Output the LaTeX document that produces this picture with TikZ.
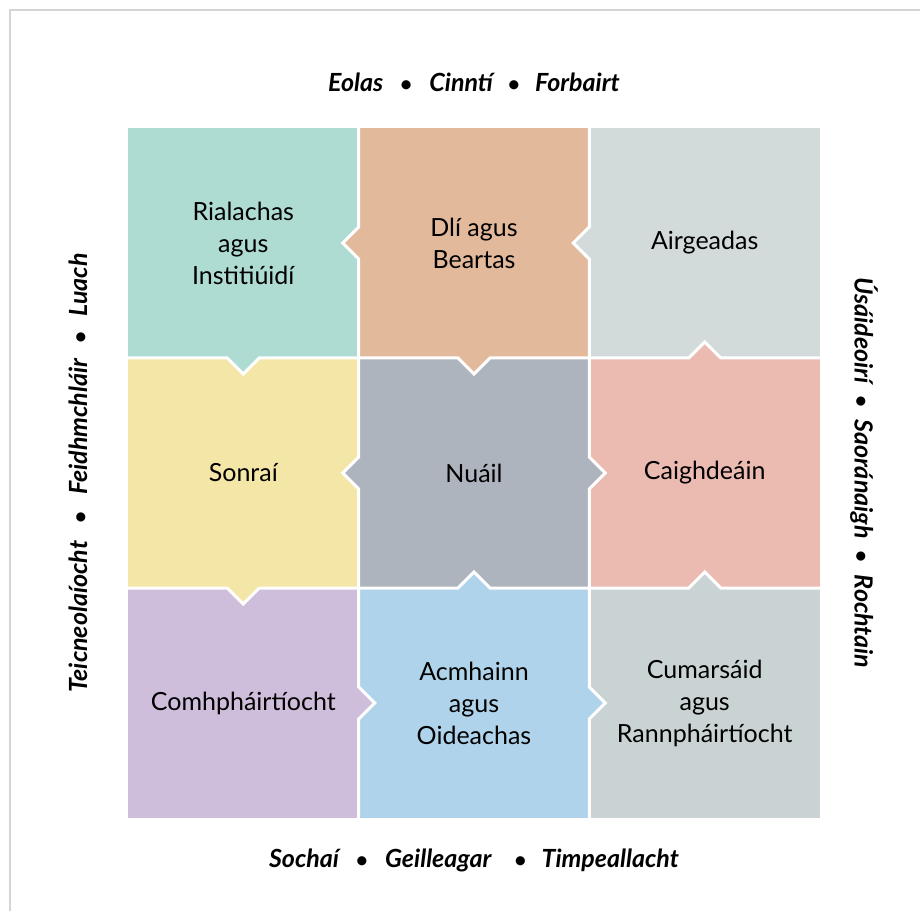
\documentclass[tikz,border=0pt]{standalone}
\usepackage{fontspec}
\setmainfont{Lato}
\usepackage{tikz}
\usetikzlibrary{positioning}
\usetikzlibrary{calc}

\definecolor{rialfill}{HTML}{AEDCD3}
\definecolor{dlifill}{HTML}{E3B99C}
\definecolor{airgfill}{HTML}{D3DBDA}
\definecolor{sonrfill}{HTML}{F4E6A7}
\definecolor{nuailfill}{HTML}{ADB4BD}
\definecolor{caigfill}{HTML}{EBBBB1}
\definecolor{comhfill}{HTML}{CFBEDB}
\definecolor{acmhfill}{HTML}{AFD3EA}
\definecolor{cumafill}{HTML}{CAD3D3}
\definecolor{framecol}{HTML}{D4D4D4}

\newcommand{\celltext}{\fontsize{25}{32}\selectfont}
\newcommand{\sidetext}{\fontsize{25}{30}\selectfont\bfseries\itshape}
\newcommand{\dotsep}[1]{\hspace{#1}{\fontsize{21}{21}\selectfont•}\hspace{#1}}

\begin{document}
\begin{tikzpicture}[x=1pt,y=1pt,node distance=0pt,every node/.style={inner sep=0,outer sep=0},
  cell/.style={minimum width=230.7pt,minimum height=230pt,align=center,font=\celltext},
  gap/.style={draw=white,line width=3pt},
  side/.style={font=\sidetext}]

\useasboundingbox (0,0) rectangle (920,911);
\draw[framecol,line width=1.5pt] (10,0) -- (10,901) -- (920,901);

% cells
\node (rial) [cell,fill=rialfill] at (243.3,668) {Rialachas\\agus\\Institiúidí};
\node (dli) [cell,fill=dlifill,right= of rial] {Dlí agus\\Beartas};
\node (airg) [cell,fill=airgfill,right= of dli] {Airgeadas};
\node (sonr) [cell,fill=sonrfill,below= of rial] {Sonraí};
\node (nuail) [cell,fill=nuailfill,right= of sonr] {Nuáil};
\node (caig) [cell,fill=caigfill,right= of nuail] {Caighdeáin};
\node (comh) [cell,fill=comhfill,below= of sonr] {Comhpháirtíocht};
\node (acmh) [cell,fill=acmhfill,right= of comh] {Acmhainn\\agus\\Oideachas};
\node (cuma) [cell,fill=cumafill,right= of acmh] {Cumarsáid\\agus\\Rannpháirtíocht};

% tabs up and down
\fill[rialfill] ($(rial.south)+(-18,2)$) -- ++(18,-18) -- ++(18,18) -- cycle;
\fill[dlifill] ($(dli.south)+(-18,2)$) -- ++(18,-18) -- ++(18,18) -- cycle;
\fill[caigfill] ($(caig.north)+(-18,-2)$) -- ++(18,18) -- ++(18,-18) -- cycle;
\fill[sonrfill] ($(sonr.south)+(-18,2)$) -- ++(18,-18) -- ++(18,18) -- cycle;
\fill[acmhfill] ($(acmh.north)+(-18,-2)$) -- ++(18,18) -- ++(18,-18) -- cycle;
\fill[cumafill] ($(cuma.north)+(-18,-2)$) -- ++(18,18) -- ++(18,-18) -- cycle;
% tabs left and right
\fill[dlifill] ($(dli.west)+(2,18)$) -- ++(-18,-18) -- ++(18,-18) -- cycle;
\fill[airgfill] ($(airg.west)+(2,18)$) -- ++(-18,-18) -- ++(18,-18) -- cycle;
\fill[nuailfill] ($(nuail.west)+(2,18)$) -- ++(-18,-18) -- ++(18,-18) -- cycle;
\fill[nuailfill] ($(nuail.east)+(-2,18)$) -- ++(18,-18) -- ++(-18,-18) -- cycle;
\fill[comhfill] ($(comh.east)+(-2,18)$) -- ++(18,-18) -- ++(-18,-18) -- cycle;
\fill[acmhfill] ($(acmh.east)+(-2,18)$) -- ++(18,-18) -- ++(-18,-18) -- cycle;

% white joints
\draw[gap] (rial.south west) -- ($(rial.south)+(-16,0)$) -- ++(16,-16) -- ++(16,16)
  -- ($(dli.south)+(-16,0)$) -- ++(16,-16) -- ++(16,16)
  -- ($(airg.south)+(-16,0)$) -- ++(16,16) -- ++(16,-16) -- (airg.south east);
\draw[gap] (sonr.south west) -- ($(sonr.south)+(-16,0)$) -- ++(16,-16) -- ++(16,16)
  -- ($(nuail.south)+(-16,0)$) -- ++(16,16) -- ++(16,-16)
  -- ($(caig.south)+(-16,0)$) -- ++(16,16) -- ++(16,-16) -- (caig.south east);
\draw[gap] (rial.north east) -- ($(rial.east)+(0,16)$) -- ++(-16,-16) -- ++(16,-16)
  -- ($(sonr.east)+(0,16)$) -- ++(-16,-16) -- ++(16,-16)
  -- ($(comh.east)+(0,16)$) -- ++(16,-16) -- ++(-16,-16) -- (comh.south east);
\draw[gap] (dli.north east) -- ($(dli.east)+(0,16)$) -- ++(-16,-16) -- ++(16,-16)
  -- ($(nuail.east)+(0,16)$) -- ++(16,-16) -- ++(-16,-16)
  -- ($(acmh.east)+(0,16)$) -- ++(16,-16) -- ++(-16,-16) -- (acmh.south east);

% labels round the grid
\node (toplbl) [side,above=36pt of dli] {Eolas\dotsep{17pt}Cinntí\dotsep{15pt}Forbairt};
\node (botlbl) [side,below=31pt of acmh] {Sochaí\dotsep{17pt}Geilleagar\hspace{8pt}\dotsep{15pt}Timpeallacht};
\node (leftlbl) [side,rotate=90] at ($(sonr.west)+(-50,0)$) {Teicneolaíocht\dotsep{17pt}Feidhmchláir\dotsep{15pt}Luach};
\node (rightlbl) [side,rotate=-90] at ($(caig.east)+(44,0)$) {Úsáideoirí\dotsep{12pt}Saoránaigh\dotsep{12pt}Rochtain};
\end{tikzpicture}
\end{document}
